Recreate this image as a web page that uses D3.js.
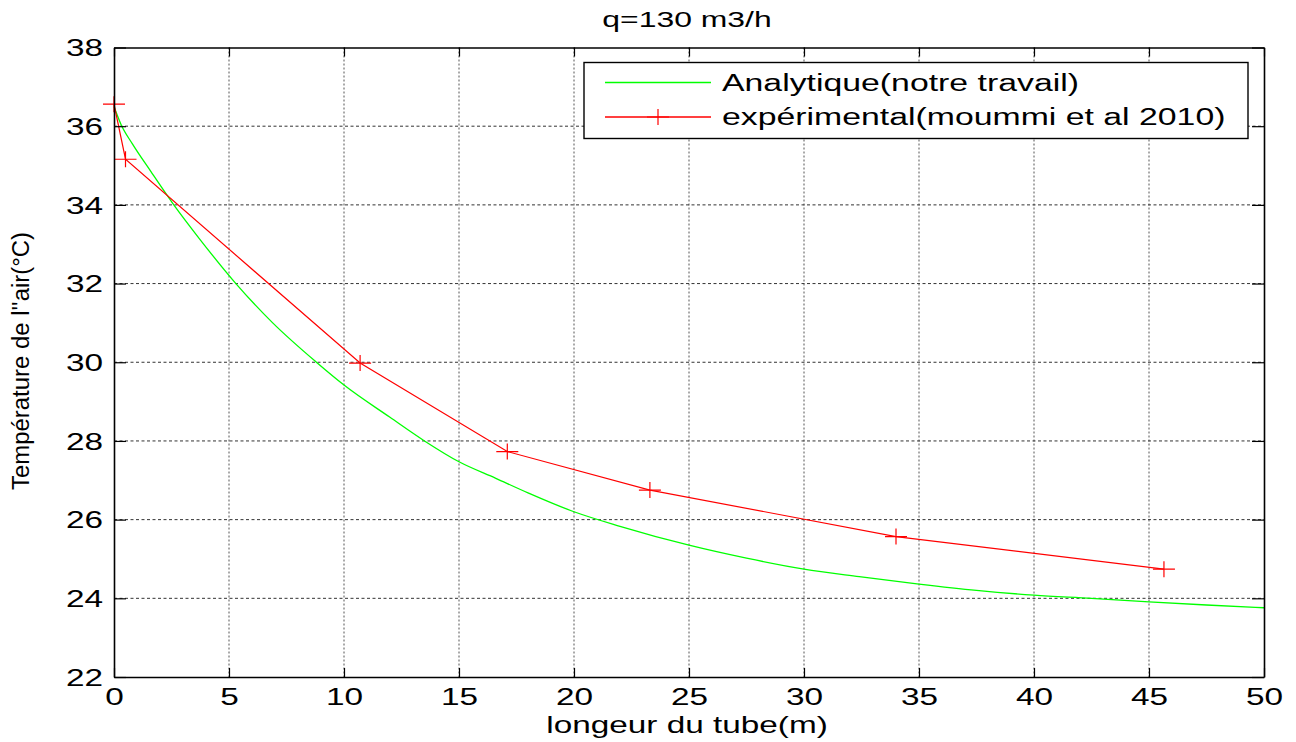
<!DOCTYPE html>
<html>
<head>
<meta charset="utf-8">
<script src="https://d3js.org/d3.v7.min.js"></script>
<style>
  body { margin: 0; background: #fff; }
  text { font-family: "Liberation Sans", Arial, sans-serif; fill: #000; }
</style>
</head>
<body>
<svg width="1296" height="742" id="svg_chart"></svg>
<script>

// analytic curve (green)
var ana_x = [0, 0.3, 0.8, 1.6, 2.6, 3.7, 5.3, 6.9, 8.8, 10, 12, 13.5, 15, 16.6, 18, 20, 22, 25, 27.5, 30, 32.4, 35, 37.5, 40, 42.5, 45, 47.5, 50];
var ana_y = [36.5, 36.05, 35.55, 34.85, 34.0, 33.15, 32.0, 31.0, 30.0, 29.42, 28.6, 28.0, 27.47, 27.05, 26.68, 26.2, 25.83, 25.35, 25.02, 24.74, 24.55, 24.36, 24.2, 24.08, 24.0, 23.91, 23.83, 23.76];

// experimental points (red)
var exp_x = [0, 0.5, 10.7, 17.1, 23.3, 34.0, 45.65];
var exp_y = [36.56, 35.16, 29.98, 27.73, 26.75, 25.57, 24.74];

var x_ticks = [0, 5, 10, 15, 20, 25, 30, 35, 40, 45, 50];
var y_ticks = [22, 24, 26, 28, 30, 32, 34, 36, 38];

var title_txt = "q=130 m3/h";
var xlabel_txt = "longeur du tube(m)";
var ylabel_txt = "Température de l''air(°C)";
var legend_txt = ["Analytique(notre travail)", "expérimental(moummi et al 2010)"];

var svg = d3.select("#svg_chart");
var p_left = 114, p_right = 1264, p_top = 47.5, p_bottom = 677;
var stretch = 1.45;   // text in the picture is wide

var x = d3.scaleLinear().domain([0, 50]).range([p_left, p_right]);
var y = d3.scaleLinear().domain([22, 38]).range([p_bottom, p_top]);

var ana_dat = ana_x.map((d, i) => ({x: d, y: ana_y[i]}));
var exp_dat = exp_x.map((d, i) => ({x: d, y: exp_y[i]}));

// grid
svg.append("g").selectAll("line")
  .data(x_ticks.slice(1, -1))
  .enter().append("line")
  .attr("x1", d => x(d)).attr("x2", d => x(d))
  .attr("y1", p_top).attr("y2", p_bottom)
  .attr("stroke", "#555").attr("stroke-width", 1)
  .attr("stroke-dasharray", "2,2");

svg.append("g").selectAll("line")
  .data(y_ticks.slice(1, -1))
  .enter().append("line")
  .attr("x1", p_left).attr("x2", p_right)
  .attr("y1", d => y(d)).attr("y2", d => y(d))
  .attr("stroke", "#333").attr("stroke-width", 1)
  .attr("stroke-dasharray", "3,2.5");

// curves
svg.append("path")
  .datum(ana_dat)
  .attr("fill", "none")
  .attr("stroke", "#00ff00")
  .attr("stroke-width", 1.3)
  .attr("d", d3.line().x(d => x(d.x)).y(d => y(d.y)).curve(d3.curveMonotoneX));

svg.append("path")
  .datum(exp_dat)
  .attr("fill", "none")
  .attr("stroke", "#ff0000")
  .attr("stroke-width", 1.2)
  .attr("d", d3.line().x(d => x(d.x)).y(d => y(d.y)));

function plus(cx, cy) {
  return "M" + (cx - 11) + "," + cy + "H" + (cx + 11) + "M" + cx + "," + (cy - 8) + "V" + (cy + 8);
}

svg.append("g").selectAll("path")
  .data(exp_dat)
  .enter().append("path")
  .attr("d", d => plus(x(d.x), y(d.y)))
  .attr("stroke", "#ff0000")
  .attr("stroke-width", 1.2)
  .attr("fill", "none");

// axes, ticks inside on all four sides
var xAxis = d3.axisBottom(x).tickValues(x_ticks).tickSizeInner(-9).tickSizeOuter(0).tickPadding(0);
var yAxis = d3.axisLeft(y).tickValues(y_ticks).tickSizeInner(-12).tickSizeOuter(0).tickPadding(0);

var gx = svg.append("g").attr("transform", "translate(0," + p_bottom + ")").call(xAxis);
var gy = svg.append("g").attr("transform", "translate(" + p_left + ",0)").call(yAxis);

svg.append("g").attr("transform", "translate(0," + p_top + ")")
  .call(d3.axisTop(x).tickValues(x_ticks).tickSizeInner(-9).tickSizeOuter(0).tickFormat(""));
svg.append("g").attr("transform", "translate(" + p_right + ",0)")
  .call(d3.axisRight(y).tickValues(y_ticks).tickSizeInner(-12).tickSizeOuter(0).tickFormat(""));

svg.selectAll(".domain").attr("stroke", "#000").attr("stroke-width", 1.6);
svg.selectAll(".tick line").attr("stroke", "#000").attr("stroke-width", 1.2);

gx.selectAll("text")
  .attr("y", 28).attr("dy", 0)
  .attr("font-size", "23px")
  .attr("transform", "scale(" + stretch + ",1)");

gy.selectAll("text")
  .attr("x", -11 / stretch).attr("dy", "0.36em")
  .attr("font-size", "23px")
  .attr("text-anchor", "end")
  .attr("transform", "scale(" + stretch + ",1)");

// labels
function label(txt, tx, ty, size, sx) {
  return svg.append("text")
    .attr("transform", "translate(" + tx + "," + ty + ") scale(" + sx + ",1)")
    .attr("text-anchor", "middle")
    .attr("font-size", size)
    .text(txt);
}

label(title_txt, 687, 27, "22px", stretch);
label(xlabel_txt, 687, 733, "23px", stretch);

svg.append("text")
  .attr("transform", "translate(29,361) rotate(-90)")
  .attr("text-anchor", "middle")
  .attr("font-size", "23px")
  .attr("textLength", 258)
  .attr("lengthAdjust", "spacingAndGlyphs")
  .text(ylabel_txt);

// legend
var leg = svg.append("g");
leg.append("rect")
  .attr("x", 584).attr("y", 62.5)
  .attr("width", 664).attr("height", 76)
  .attr("fill", "#fff").attr("stroke", "#000").attr("stroke-width", 1.4);

var leg_rows = [
  {txt: legend_txt[0], col: "#00ff00", ly: 82.5, mark: false},
  {txt: legend_txt[1], col: "#ff0000", ly: 117, mark: true}
];

leg.selectAll("line")
  .data(leg_rows)
  .enter().append("line")
  .attr("x1", 605).attr("x2", 711)
  .attr("y1", d => d.ly).attr("y2", d => d.ly)
  .attr("stroke", d => d.col).attr("stroke-width", 1.3);

leg.selectAll("path")
  .data(leg_rows.filter(d => d.mark))
  .enter().append("path")
  .attr("d", d => plus(658, d.ly))
  .attr("stroke", d => d.col).attr("stroke-width", 1.2);

leg.selectAll("text")
  .data(leg_rows)
  .enter().append("text")
  .attr("transform", d => "translate(722," + (d.ly + 8) + ") scale(1.47,1)")
  .attr("font-size", "23px")
  .text(d => d.txt);

</script>
</body>
</html>
